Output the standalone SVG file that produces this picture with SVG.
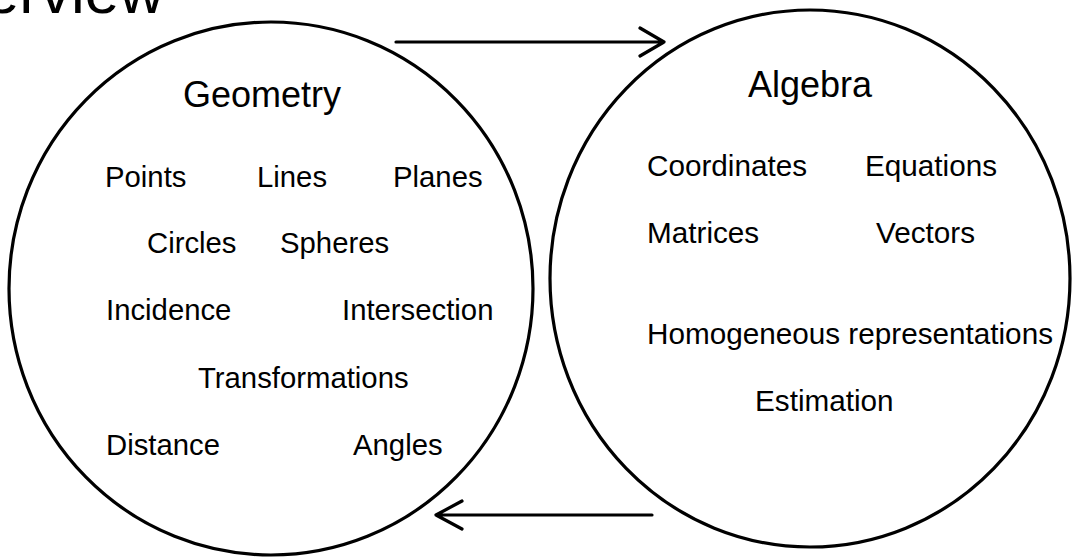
<svg xmlns="http://www.w3.org/2000/svg" width="1075" height="558" viewBox="0 0 1075 558">
<style>
  .ring { fill: none; stroke: #000; stroke-width: 3.2; }
  .conn { fill: none; stroke: #000; stroke-width: 3.2; stroke-linecap: round; stroke-linejoin: round; }
  text { font-family: "Liberation Sans", Arial, sans-serif; fill: #000; }
  .title { font-size: 36px; }
  .item { font-size: 29.3px; }
  .itemr { font-size: 29.7px; }
  .head { font-size: 62px; }
</style>
<rect width="1075" height="558" fill="#fff"/>
<text class="head" x="164" y="13" text-anchor="end">Overview</text>
<g id="geometry">
  <ellipse class="ring" cx="271" cy="288.5" rx="262" ry="266.5"/>
  <text class="title" x="183" y="107">Geometry</text>
  <text class="item" x="105" y="187">Points</text>
  <text class="item" x="257" y="187">Lines</text>
  <text class="item" x="393" y="187">Planes</text>
  <text class="item" x="147" y="253">Circles</text>
  <text class="item" x="280" y="253">Spheres</text>
  <text class="item" x="106" y="320">Incidence</text>
  <text class="item" x="342" y="320">Intersection</text>
  <text class="item" x="198" y="388">Transformations</text>
  <text class="item" x="106" y="455">Distance</text>
  <text class="item" x="353" y="455">Angles</text>
</g>
<g id="algebra">
  <ellipse class="ring" cx="810" cy="278.5" rx="260" ry="268.5"/>
  <text class="title" x="748" y="97">Algebra</text>
  <text class="itemr" x="647" y="176">Coordinates</text>
  <text class="itemr" x="865" y="176">Equations</text>
  <text class="itemr" x="647" y="243">Matrices</text>
  <text class="itemr" x="876" y="243">Vectors</text>
  <text class="itemr" x="647" y="344">Homogeneous representations</text>
  <text class="itemr" x="755" y="411">Estimation</text>
</g>
<g id="connectors">
  <path class="conn" d="M396,42 H664 M640,28 L664,42 L640,56"/>
  <path class="conn" d="M652,515 H436 M462,501 L436,515 L462,529"/>
</g>
</svg>
